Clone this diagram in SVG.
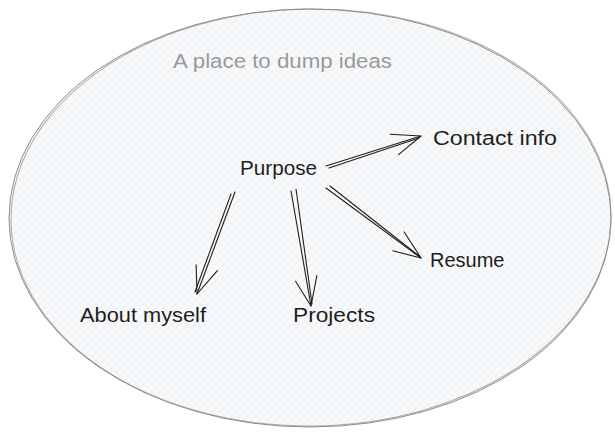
<svg xmlns="http://www.w3.org/2000/svg" width="615" height="438" viewBox="0 0 615 438">
  <defs>
    <pattern id="hatch" width="8" height="8" patternUnits="userSpaceOnUse">
      <rect width="8" height="8" fill="#f8f9fb"/>
      <path d="M0,8 L8,0 M-2,2 L2,-2 M6,10 L10,6" stroke="#e0e5eb" stroke-width="0.6"/>
      <path d="M0,0 L8,8 M-2,6 L2,10 M6,-2 L10,2" stroke="#e6eaef" stroke-width="0.5"/>
    </pattern>
    <marker id="arrow" viewBox="0 0 32 24" refX="30" refY="12" markerWidth="32" markerHeight="24" markerUnits="userSpaceOnUse" orient="auto">
      <path d="M1,1 L30,12 M3,23 L30,12" fill="none" stroke="#1e1e1e" stroke-width="1.1" stroke-linecap="round"/>
    </marker>
  </defs>
  <style>
    .lbl { font-family: "Liberation Sans", Arial, sans-serif; font-size: 20px; fill: #1e1e1e; }
    .title { font-family: "Liberation Sans", Arial, sans-serif; font-size: 20px; fill: #9a9a9a; }
    .edge { fill: none; stroke: #1e1e1e; stroke-width: 1.1; stroke-linecap: round; }
    .outline { fill: none; stroke: #8c8c8c; stroke-width: 1; }
  </style>

  <g id="area">
    <ellipse cx="310" cy="218" rx="301" ry="209" fill="url(#hatch)" stroke="none"/>
    <ellipse class="outline" cx="310" cy="218" rx="301" ry="209"/>
    <ellipse class="outline" cx="311" cy="217.5" rx="300" ry="208.5" transform="rotate(-0.6 310 218)" stroke-opacity="0.7"/>
  </g>

  <g id="title">
    <text class="title" x="173" y="68" textLength="219" lengthAdjust="spacingAndGlyphs">A place to dump ideas</text>
  </g>

  <g id="connectors">
    <path class="edge" d="M326,166 L421,136" marker-end="url(#arrow)"/>
    <path class="edge" d="M329,168 L419,138" stroke-width="0.8"/>
    <path class="edge" d="M326,188 L421,258" marker-end="url(#arrow)"/>
    <path class="edge" d="M330,186 L419,256" stroke-width="0.8"/>
    <path class="edge" d="M235,192 L197,294" marker-end="url(#arrow)"/>
    <path class="edge" d="M231,194 L195,292" stroke-width="0.8"/>
    <path class="edge" d="M291,191 L311,306" marker-end="url(#arrow)"/>
    <path class="edge" d="M296,189 L312,304" stroke-width="0.8"/>
  </g>

  <g id="purpose">
    <text class="lbl" x="240" y="175" textLength="77" lengthAdjust="spacingAndGlyphs">Purpose</text>
  </g>
  <g id="contact">
    <text class="lbl" x="433" y="145" textLength="124" lengthAdjust="spacingAndGlyphs">Contact info</text>
  </g>
  <g id="resume">
    <text class="lbl" x="430" y="267">Resume</text>
  </g>
  <g id="about">
    <text class="lbl" x="80" y="322" textLength="126" lengthAdjust="spacingAndGlyphs">About myself</text>
  </g>
  <g id="projects">
    <text class="lbl" x="293" y="322" textLength="82" lengthAdjust="spacingAndGlyphs">Projects</text>
  </g>
</svg>
